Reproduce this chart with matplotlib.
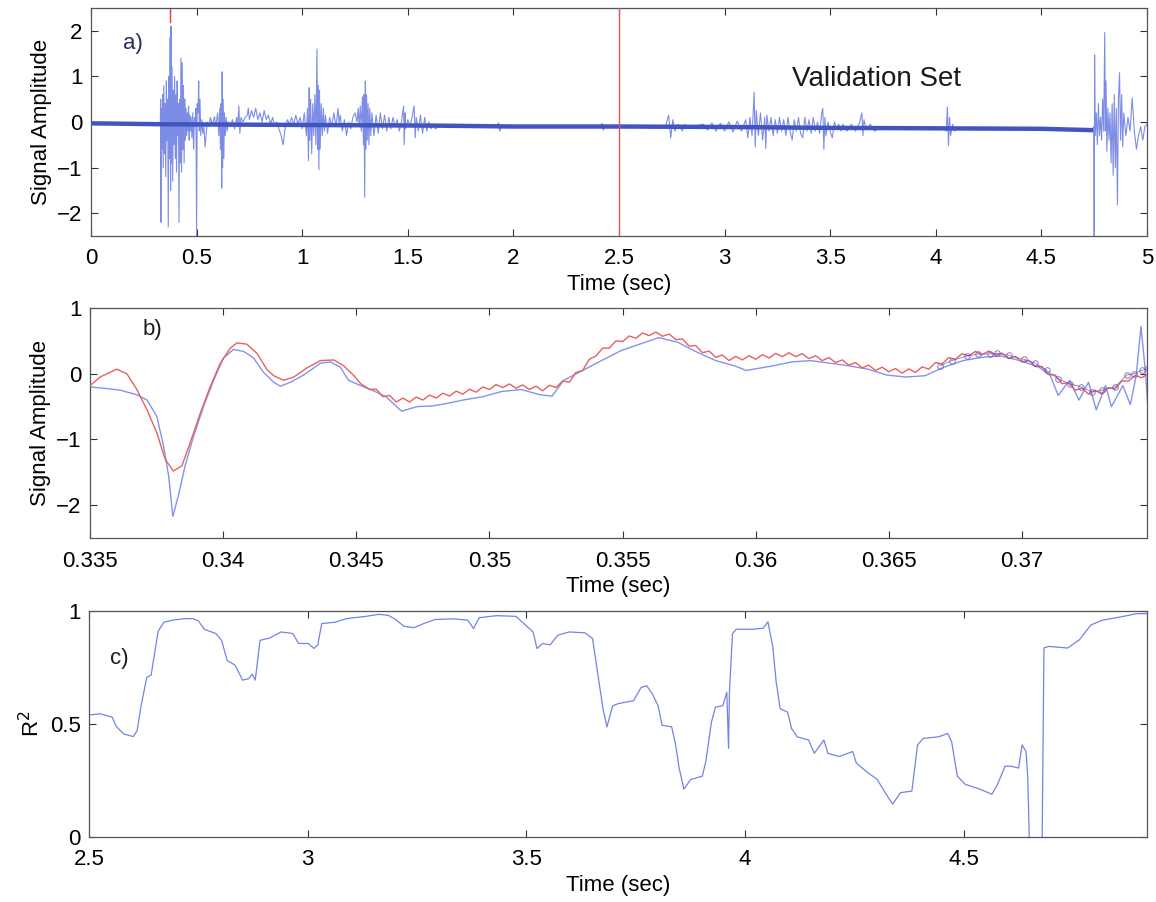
import numpy as np
import matplotlib
matplotlib.use("Agg")
import matplotlib.pyplot as plt

plt.rcParams["font.family"] = ["Liberation Sans", "DejaVu Sans"]
plt.rcParams["font.size"] = 16

# ---- a) full recording, 0-5 s ----
# quiet baseline (drawn heavy)
base_t = [0.0, 0.33, 1.62, 2.0, 2.5, 3.0, 3.5, 4.0, 4.5, 4.745]
base_v = [-0.03, -0.05, -0.08, -0.1, -0.1, -0.11, -0.13, -0.14, -0.15, -0.18]

# bursts and blips (drawn thin)
sig_pairs = [
    (0.0, -0.03), (0.20, -0.04), (0.328, -0.05), (0.330, 0.5), (0.331, -2.2), (0.333, 0.3),
    (0.336, -0.6), (0.339, 0.6), (0.342, -1.0), (0.345, 0.8), (0.348, -0.7), (0.351, 0.4),
    (0.354, -1.2), (0.357, 0.9), (0.360, -0.4), (0.363, 0.5), (0.366, -2.3), (0.369, 1.0),
    (0.372, -0.8), (0.375, 1.85), (0.377, -1.5), (0.379, 2.1), (0.381, -0.9), (0.384, 1.2),
    (0.387, -1.3), (0.390, 0.7), (0.393, -0.5), (0.396, 1.0), (0.399, -0.8), (0.402, 0.6),
    (0.405, -1.1), (0.408, 0.9), (0.411, -0.3), (0.414, 0.4), (0.417, -2.2), (0.420, 0.5),
    (0.423, -0.9), (0.426, 1.4), (0.429, -1.1), (0.432, 1.3), (0.435, -0.6), (0.438, 0.8),
    (0.441, -0.9), (0.444, 0.5), (0.447, -0.4), (0.450, 0.3), (0.453, -0.3), (0.456, 0.2),
    (0.459, -0.2), (0.462, 0.35), (0.465, -0.4), (0.468, 0.15), (0.471, -0.2), (0.474, 0.1),
    (0.478, -0.35), (0.482, 0.2), (0.486, -0.6), (0.490, 0.1), (0.494, -0.1), (0.497, 0.3),
    (0.500, -2.5), (0.503, 0.4), (0.507, 0.2), (0.510, 0.9), (0.513, -0.2), (0.516, 0.5),
    (0.520, -0.3), (0.525, 0.05), (0.530, -0.25), (0.535, -0.1), (0.540, -0.55), (0.545, -0.3),
    (0.550, 0.0), (0.560, -0.1), (0.565, 0.1), (0.575, -0.05), (0.585, 0.12), (0.590, -0.1),
    (0.600, 0.2), (0.605, -0.3), (0.610, 0.3), (0.613, -0.6), (0.616, 0.4), (0.619, -1.45),
    (0.621, 1.1), (0.623, -1.0), (0.626, 0.5), (0.629, -0.8), (0.632, 0.2), (0.636, -0.3),
    (0.640, 0.1), (0.645, -0.2), (0.650, 0.0), (0.660, -0.1), (0.670, 0.05), (0.680, -0.15),
    (0.690, 0.1), (0.695, -0.1), (0.700, 0.35), (0.705, -0.25), (0.710, 0.1), (0.720, 0.0),
    (0.730, 0.1), (0.740, 0.15), (0.745, 0.3), (0.750, 0.05), (0.760, 0.25), (0.770, 0.1),
    (0.780, 0.3), (0.790, 0.05), (0.800, 0.2), (0.810, 0.0), (0.820, 0.25), (0.830, 0.05),
    (0.840, 0.15), (0.850, -0.05), (0.860, 0.1), (0.870, -0.1), (0.880, 0.0), (0.890, -0.15),
    (0.900, -0.3), (0.910, -0.5), (0.915, -0.3), (0.920, -0.1), (0.930, 0.05), (0.940, -0.05),
    (0.950, 0.1), (0.960, -0.05), (0.970, 0.15), (0.980, -0.05), (0.990, 0.1), (1.000, -0.15),
    (1.010, 0.2), (1.020, -0.3), (1.025, 0.3), (1.030, -0.85), (1.033, 0.75), (1.036, -0.4),
    (1.040, 0.5), (1.045, -0.7), (1.050, 0.4), (1.055, -0.3), (1.060, 0.6), (1.065, -0.5),
    (1.070, 1.6), (1.073, -0.6), (1.076, 0.8), (1.079, -1.05), (1.082, 0.7), (1.085, -0.6),
    (1.090, 0.4), (1.095, -0.3), (1.100, 0.3), (1.105, -0.2), (1.110, 0.15), (1.120, -0.25),
    (1.130, 0.1), (1.140, -0.1), (1.150, 0.2), (1.160, -0.1), (1.170, 0.3), (1.175, -0.05),
    (1.180, 0.15), (1.190, -0.2), (1.200, 0.05), (1.210, -0.3), (1.220, 0.0), (1.230, -0.15),
    (1.240, 0.1), (1.250, 0.2), (1.260, 0.0), (1.265, 0.3), (1.270, -0.1), (1.275, 0.35),
    (1.280, -0.2), (1.285, 0.55), (1.290, -0.5), (1.293, 0.6), (1.296, -1.65), (1.299, 0.9),
    (1.302, -0.6), (1.305, 0.6), (1.308, -0.4), (1.312, 0.4), (1.316, -0.5), (1.320, 0.3),
    (1.325, -0.3), (1.330, 0.2), (1.340, -0.3), (1.350, 0.15), (1.360, -0.25), (1.370, 0.2),
    (1.380, -0.15), (1.390, 0.15), (1.400, -0.2), (1.410, 0.1), (1.420, -0.15), (1.430, 0.1),
    (1.440, -0.1), (1.450, 0.05), (1.460, -0.2), (1.470, 0.0), (1.480, 0.35), (1.483, -0.5),
    (1.487, 0.2), (1.490, -0.15), (1.500, 0.05), (1.510, -0.1), (1.520, 0.1), (1.530, 0.35),
    (1.535, -0.35), (1.540, 0.1), (1.550, -0.2), (1.560, 0.15), (1.570, -0.25), (1.580, 0.1),
    (1.590, -0.2), (1.600, 0.0), (1.610, -0.15), (1.620, -0.05), (1.630, -0.15), (1.650, -0.1),
    (1.920, -0.09), (1.930, -0.02), (1.935, -0.2), (1.945, -0.09), (2.410, -0.1), (2.420, -0.03),
    (2.425, -0.18), (2.435, -0.1), (2.720, -0.1), (2.735, 0.15), (2.745, -0.35), (2.755, 0.05),
    (2.765, -0.2), (2.780, -0.05), (2.800, -0.2), (2.810, -0.05), (2.820, -0.12), (2.900, -0.05),
    (2.920, -0.18), (2.940, -0.02), (2.960, -0.2), (2.980, -0.03), (3.000, -0.2), (3.020, 0.0),
    (3.040, -0.22), (3.060, 0.02), (3.080, -0.2), (3.100, 0.05), (3.110, -0.35), (3.120, 0.1),
    (3.130, -0.3), (3.140, 0.65), (3.145, -0.55), (3.150, 0.25), (3.160, -0.3), (3.170, 0.2),
    (3.180, -0.4), (3.190, 0.1), (3.195, -0.58), (3.200, 0.15), (3.210, -0.2), (3.220, 0.1),
    (3.230, -0.3), (3.240, 0.05), (3.250, -0.25), (3.260, 0.1), (3.270, -0.2), (3.280, 0.05),
    (3.290, -0.3), (3.300, 0.1), (3.310, -0.2), (3.320, -0.4), (3.330, 0.05), (3.340, -0.2),
    (3.350, 0.1), (3.360, -0.25), (3.370, -0.35), (3.380, 0.1), (3.390, -0.2), (3.400, 0.05),
    (3.410, -0.25), (3.420, 0.1), (3.430, -0.2), (3.440, 0.0), (3.450, -0.25), (3.460, 0.2),
    (3.465, 0.3), (3.470, -0.6), (3.475, 0.1), (3.480, -0.3), (3.490, 0.0), (3.500, -0.2),
    (3.510, -0.35), (3.520, 0.0), (3.530, -0.15), (3.540, -0.05), (3.550, -0.2), (3.560, -0.05),
    (3.580, -0.2), (3.600, -0.05), (3.620, -0.2), (3.640, 0.0), (3.650, 0.2), (3.655, -0.3),
    (3.660, 0.05), (3.670, -0.15), (3.690, -0.05), (3.710, -0.2), (3.750, -0.1), (3.800, -0.15),
    (3.850, -0.12), (3.900, -0.16), (3.950, -0.12), (4.000, -0.15), (4.030, -0.12), (4.050, -0.2),
    (4.055, 0.33), (4.060, -0.52), (4.065, 0.1), (4.070, -0.3), (4.080, -0.05), (4.090, -0.2),
    (4.100, -0.13), (4.400, -0.15), (4.740, -0.18), (4.748, -0.1), (4.750, -2.6), (4.752, 1.47),
    (4.755, -0.3), (4.760, 0.2), (4.765, -0.5), (4.770, 0.4), (4.775, -0.3), (4.780, 0.1),
    (4.785, -0.4), (4.790, 0.5), (4.795, -0.2), (4.800, 1.96), (4.803, -0.2), (4.806, 0.9),
    (4.810, -0.64), (4.815, 0.3), (4.820, -0.4), (4.825, 0.2), (4.830, -0.9), (4.835, 0.4),
    (4.840, -1.17), (4.845, 0.6), (4.850, -1.0), (4.855, 0.3), (4.860, -1.82), (4.865, 0.5),
    (4.870, 1.08), (4.875, -0.4), (4.880, 0.6), (4.885, -0.55), (4.890, 0.2), (4.900, -0.3),
    (4.910, 0.1), (4.920, -0.2), (4.930, 0.53), (4.940, -0.2), (4.950, -0.6), (4.960, -0.3),
    (4.970, -0.1), (4.980, -0.4), (4.990, -0.1), (5.000, -0.05),
]
sig_t = [p[0] for p in sig_pairs]
sig_v = [p[1] for p in sig_pairs]
split_time = 2.5
zoom_start = 0.375

# ---- b) close-up 0.335-0.3747 s ----
red_t = [0.3350, 0.33538, 0.3360, 0.33638, 0.33676, 0.33714, 0.33751, 0.33782, 0.33813,
         0.33845, 0.33876, 0.33914, 0.33951, 0.33989, 0.34027, 0.34052, 0.34089, 0.34127,
         0.34165, 0.3419, 0.34227, 0.34265, 0.34315, 0.34365, 0.34416, 0.34453, 0.34491,
         0.34516]
red_v = [-0.18, -0.05, 0.07, 0.0, -0.24, -0.55, -0.9, -1.3, -1.48, -1.4, -1.05, -0.6, -0.2,
         0.16, 0.39, 0.47, 0.45, 0.31, 0.06, -0.03, -0.1, -0.05, 0.09, 0.2, 0.21, 0.12, -0.03,
         -0.15]
# rippled part of the predicted trace, sampled every 0.25 ms from 0.3455 s
red_rip_start = 0.3455
red_rip_step = 0.00025
red_rip_v = [-0.24, -0.235, -0.35, -0.33, -0.43, -0.37, -0.43, -0.355, -0.40, -0.325, -0.37,
             -0.295, -0.34, -0.265, -0.31, -0.235, -0.28, -0.20, -0.24, -0.165, -0.21, -0.155,
             -0.22, -0.17, -0.24, -0.19, -0.26, -0.175, -0.21, -0.11, -0.13, 0.02, 0.05, 0.22,
             0.27, 0.39, 0.39, 0.50, 0.49, 0.575, 0.54, 0.62, 0.58, 0.635, 0.57, 0.605, 0.52,
             0.53, 0.42, 0.43, 0.32, 0.345, 0.25, 0.285, 0.20, 0.265, 0.21, 0.275, 0.22, 0.29,
             0.24, 0.31, 0.26, 0.32, 0.26, 0.305, 0.23, 0.275, 0.20, 0.245, 0.17, 0.21, 0.13,
             0.17, 0.09, 0.13, 0.05, 0.10, 0.03, 0.08, 0.01, 0.075, 0.02, 0.105, 0.07, 0.17,
             0.15, 0.245, 0.22, 0.305, 0.27, 0.34, 0.29, 0.345, 0.28, 0.315, 0.23, 0.265, 0.18,
             0.205, 0.11, 0.11, -0.01, -0.02, -0.15, -0.14, -0.25, -0.22, -0.31, -0.25, -0.31,
             -0.21, -0.23, -0.11, -0.11, -0.025, -0.06, 0.0]

blue_t = [0.3350, 0.33550, 0.33613, 0.33676, 0.33714, 0.33751, 0.33776, 0.33795, 0.33811,
          0.33832, 0.33857, 0.33889, 0.33926, 0.33964, 0.34001, 0.34039, 0.34077, 0.34114,
          0.34152, 0.3419, 0.34215, 0.34252, 0.34302, 0.34365, 0.34403, 0.3444, 0.34471,
          0.34516, 0.34554, 0.34612, 0.3467, 0.34728, 0.34786, 0.34843, 0.34901, 0.34974,
          0.35046, 0.35119, 0.35191, 0.35235, 0.35279, 0.3535, 0.35421, 0.35493, 0.35564,
          0.35636, 0.35707, 0.35779, 0.3585, 0.35921, 0.35964, 0.36064, 0.36136, 0.36207,
          0.36279, 0.3635, 0.36421, 0.36493, 0.36564, 0.36636, 0.36707, 0.36779, 0.3685,
          0.36921, 0.36993, 0.37064, 0.37107, 0.37136, 0.37179, 0.37214, 0.3725, 0.37279,
          0.37314, 0.37336, 0.37379, 0.37407, 0.37429, 0.37447, 0.37464, 0.37474]
blue_v = [-0.2, -0.22, -0.25, -0.32, -0.4, -0.65, -1.1, -1.55, -2.17, -1.85, -1.4, -0.95,
          -0.5, -0.1, 0.24, 0.37, 0.34, 0.24, 0.02, -0.13, -0.19, -0.13, -0.02, 0.16, 0.18,
          0.1, -0.1, -0.18, -0.24, -0.35, -0.57, -0.5, -0.49, -0.45, -0.4, -0.35, -0.27, -0.24,
          -0.32, -0.34, -0.1, 0.05, 0.2, 0.35, 0.45, 0.55, 0.48, 0.33, 0.2, 0.12, 0.05, 0.12,
          0.18, 0.2, 0.16, 0.12, 0.07, -0.02, -0.05, -0.03, 0.1, 0.2, 0.25, 0.27, 0.2, 0.1,
          -0.03, -0.33, -0.1, -0.4, -0.13, -0.55, -0.18, -0.5, -0.18, -0.47, -0.03, 0.72, 0.02,
          -0.58]

mark_t = [0.36693, 0.36736, 0.36793, 0.36836, 0.36879, 0.36907, 0.3695, 0.37007, 0.3705,
          0.37093, 0.37136, 0.37179, 0.37221, 0.37264, 0.373, 0.3735, 0.37393, 0.37421,
          0.3745, 0.37474]
mark_v = [0.12, 0.2, 0.27, 0.3, 0.3, 0.31, 0.28, 0.22, 0.16, 0.05, -0.08, -0.15, -0.2, -0.28,
          -0.25, -0.2, -0.02, 0.0, 0.05, 0.08]

# ---- c) R^2 over the validation half ----
r2_t = [2.5, 2.526, 2.553, 2.562, 2.579, 2.601, 2.61, 2.619, 2.632, 2.642, 2.649, 2.658,
        2.671, 2.693, 2.72, 2.737, 2.75, 2.764, 2.79, 2.803, 2.816, 2.834, 2.851, 2.865,
        2.873, 2.88, 2.891, 2.913, 2.939, 2.966, 2.979, 3.001, 3.014, 3.023, 3.032, 3.062,
        3.089, 3.133, 3.163, 3.185, 3.203, 3.22, 3.243, 3.265, 3.291, 3.335, 3.366, 3.379,
        3.392, 3.432, 3.476, 3.498, 3.515, 3.524, 3.537, 3.554, 3.572, 3.598, 3.634, 3.651,
        3.666, 3.675, 3.684, 3.697, 3.71, 3.745, 3.762, 3.775, 3.788, 3.801, 3.81, 3.832,
        3.841, 3.849, 3.86, 3.875, 3.902, 3.91, 3.923, 3.932, 3.949, 3.958, 3.962, 3.964,
        3.971, 3.98, 4.015, 4.041, 4.052, 4.063, 4.071, 4.08, 4.097, 4.106, 4.119, 4.145,
        4.158, 4.18, 4.189, 4.215, 4.246, 4.254, 4.276, 4.302, 4.32, 4.337, 4.355, 4.381,
        4.394, 4.407, 4.442, 4.463, 4.472, 4.485, 4.503, 4.537, 4.564, 4.577, 4.594, 4.607,
        4.625, 4.633, 4.642, 4.646, 4.652, 4.678, 4.683, 4.694, 4.737, 4.764, 4.79, 4.816,
        4.86, 4.895, 4.918]
r2_v = [0.54, 0.545, 0.53, 0.49, 0.456, 0.444, 0.47, 0.58, 0.706, 0.716, 0.80, 0.91, 0.95,
        0.96, 0.966, 0.966, 0.956, 0.918, 0.9, 0.87, 0.78, 0.76, 0.694, 0.70, 0.72, 0.694,
        0.87, 0.88, 0.907, 0.9, 0.856, 0.856, 0.834, 0.85, 0.944, 0.95, 0.966, 0.976, 0.985,
        0.98, 0.959, 0.932, 0.926, 0.944, 0.962, 0.965, 0.959, 0.922, 0.97, 0.979, 0.976,
        0.937, 0.907, 0.834, 0.856, 0.85, 0.893, 0.907, 0.903, 0.878, 0.683, 0.567, 0.487,
        0.58, 0.59, 0.603, 0.661, 0.669, 0.632, 0.58, 0.494, 0.487, 0.407, 0.305, 0.211,
        0.254, 0.269, 0.334, 0.509, 0.574, 0.581, 0.64, 0.392, 0.64, 0.9, 0.919, 0.919, 0.923,
        0.952, 0.843, 0.683, 0.567, 0.552, 0.48, 0.443, 0.429, 0.37, 0.429, 0.37, 0.356,
        0.378, 0.327, 0.291, 0.254, 0.196, 0.145, 0.196, 0.203, 0.407, 0.436, 0.443, 0.458,
        0.421, 0.269, 0.233, 0.211, 0.189, 0.233, 0.313, 0.313, 0.305, 0.407, 0.378, 0.262,
        -0.2, -0.2, 0.836, 0.843, 0.836, 0.872, 0.9375, 0.959, 0.974, 0.988, 0.988]


def style_axes(ax):
    ax.tick_params(direction="in", top=True, right=True, length=5, width=0.8,
                   labelsize=16, color="#333333")
    ax.tick_params(axis="x", pad=9)
    ax.tick_params(axis="y", pad=6)
    for sp in ax.spines.values():
        sp.set_color("#555555")
        sp.set_linewidth(0.9)


fig = plt.figure(figsize=(11.56, 9.02), dpi=100)

# panel a
ax1 = fig.add_axes([0.0787, 0.7384, 0.9135, 0.2528])
ax1.plot(sig_t, sig_v, color="#7d8de6", lw=0.8, zorder=2)
ax1.plot(base_t, base_v, color="#4254c2", lw=3.2, solid_capstyle="butt", zorder=3)
ax1.axvline(split_time, color="#d05a5a", lw=1.0, zorder=4)
ax1.axvline(zoom_start, ymin=0.94, color="#e04040", lw=1.0, zorder=1)
ax1.set_xlim(0, 5)
ax1.set_ylim(-2.5, 2.5)
ax1.set_xticks(np.arange(0, 5.01, 0.5))
ax1.set_xticklabels(["0", "0.5", "1", "1.5", "2", "2.5", "3", "3.5", "4", "4.5", "5"])
ax1.set_yticks([-2, -1, 0, 1, 2])
ax1.set_xlabel("Time (sec)", fontsize=16, labelpad=3)
ax1.set_ylabel("Signal Amplitude", fontsize=16)
ax1.text(0.03, 0.845, "a)", transform=ax1.transAxes, fontsize=16, color="#2c2c66",
         va="center")
ax1.text(3.72, 0.95, "Validation Set", fontsize=20, ha="center", va="center",
         color="#1a1a1a")
style_axes(ax1)

# panel b
ax2 = fig.add_axes([0.0779, 0.4035, 0.9144, 0.255])
rip_t = red_rip_start + red_rip_step * np.arange(len(red_rip_v))
ax2.plot(red_t + list(rip_t), red_v + red_rip_v, color="#e8605c", lw=1.0, zorder=3)
ax2.plot(blue_t, blue_v, color="#8394ea", lw=1.0, zorder=2)
ax2.plot(mark_t, mark_v, color="#6a5ab8", lw=0.6, marker="o", ms=4, mfc="none",
         mew=0.7, alpha=0.8, zorder=4)
ax2.set_xlim(0.335, 0.3747)
ax2.set_ylim(-2.5, 1)
ax2.set_xticks([0.335, 0.34, 0.345, 0.35, 0.355, 0.36, 0.365, 0.37])
ax2.set_xticklabels(["0.335", "0.34", "0.345", "0.35", "0.355", "0.36", "0.365", "0.37"])
ax2.set_yticks([-2, -1, 0, 1])
ax2.set_xlabel("Time (sec)", fontsize=16, labelpad=3)
ax2.set_ylabel("Signal Amplitude", fontsize=16)
ax2.text(0.05, 0.905, "b)", transform=ax2.transAxes, fontsize=16, color="#1a1a1a",
         va="center")
style_axes(ax2)

# panel c
ax3 = fig.add_axes([0.077, 0.0721, 0.915, 0.2506])
ax3.plot(r2_t, r2_v, color="#7383e4", lw=0.9)
ax3.set_xlim(2.5, 4.918)
ax3.set_ylim(0, 1)
ax3.set_xticks([2.5, 3, 3.5, 4, 4.5])
ax3.set_xticklabels(["2.5", "3", "3.5", "4", "4.5"])
ax3.set_yticks([0, 0.5, 1])
ax3.set_yticklabels(["0", "0.5", "1"])
ax3.set_xlabel("Time (sec)", fontsize=16, labelpad=3)
ax3.set_ylabel("R$^2$", fontsize=16)
ax3.text(0.02, 0.79, "c)", transform=ax3.transAxes, fontsize=16, color="#1a1a1a",
         va="center")
style_axes(ax3)

fig.savefig("out.png", dpi=100)
